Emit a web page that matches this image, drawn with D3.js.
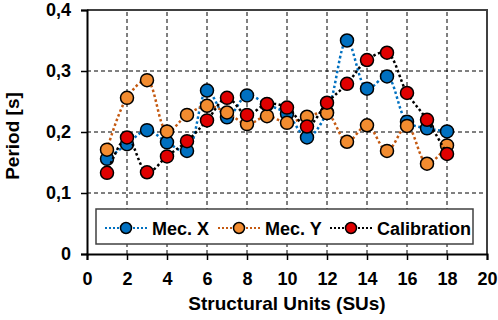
<!DOCTYPE html>
<html>
<head>
<meta charset="utf-8">
<script src="https://cdn.jsdelivr.net/npm/d3@7"></script>
<style>
  body { margin: 0; background: #fff; }
  svg { display: block; font-family: "Liberation Sans", Arial, sans-serif; }
</style>
</head>
<body>
<div id="chart"></div>
<script>
// data
const units = [1, 2, 3, 4, 5, 6, 7, 8, 9, 10, 11, 12, 13, 14, 15, 16, 17, 18];
const mecX = [0.156, 0.180, 0.203, 0.183, 0.169, 0.268, 0.224, 0.260, 0.245, 0.230, 0.191, 0.232, 0.350, 0.271, 0.291, 0.217, 0.206, 0.201];
const mecY = [0.171, 0.256, 0.285, 0.201, 0.228, 0.243, 0.232, 0.213, 0.226, 0.215, 0.225, 0.231, 0.184, 0.211, 0.169, 0.210, 0.148, 0.178];
const calib = [0.133, 0.191, 0.134, 0.160, 0.185, 0.219, 0.256, 0.228, 0.246, 0.240, 0.209, 0.248, 0.279, 0.318, 0.330, 0.264, 0.220, 0.164];
const xTicks = [0, 2, 4, 6, 8, 10, 12, 14, 16, 18, 20];
const yTicks = [0, 0.1, 0.2, 0.3, 0.4];

const series = [
  {name: "Mec. X", values: mecX, line: "#0070C0", fill: "#0070C0", legendX: 105},
  {name: "Mec. Y", values: mecY, line: "#C55A11", fill: "#F28C30", legendX: 218},
  {name: "Calibration", values: calib, line: "#000000", fill: "#E00000", legendX: 330}
];

const width = 498, height = 320;
const margin = {top: 10, right: 11, bottom: 66, left: 87};

const svg = d3.select("#chart").append("svg")
  .attr("width", width)
  .attr("height", height);

const x = d3.scaleLinear().domain([0, 20]).range([margin.left, width - margin.right]);
const y = d3.scaleLinear().domain([0, 0.4]).range([height - margin.bottom, margin.top]);

// gridlines
svg.append("g")
  .selectAll("line")
  .data(yTicks.filter(d => d > 0 && d < 0.4))
  .join("line")
  .attr("x1", x(0)).attr("x2", x(20))
  .attr("y1", d => y(d)).attr("y2", d => y(d))
  .attr("stroke", "#000").attr("stroke-width", 1)
  .attr("stroke-dasharray", "4,3");

svg.append("g")
  .selectAll("line")
  .data(xTicks.filter(d => d > 0 && d < 20))
  .join("line")
  .attr("x1", d => x(d)).attr("x2", d => x(d))
  .attr("y1", y(0)).attr("y2", y(0.4))
  .attr("stroke", "#000").attr("stroke-width", 1)
  .attr("stroke-dasharray", "4,3");

// top/right frame
svg.append("path")
  .attr("d", `M${x(0)},${y(0.4)}H${x(20)}V${y(0)}`)
  .attr("fill", "none")
  .attr("stroke", "#404040")
  .attr("stroke-width", 2);

// axes
const yAxis = svg.append("g")
  .attr("transform", `translate(${x(0)},0)`)
  .call(d3.axisLeft(y).tickValues(yTicks).tickSize(6).tickPadding(10)
    .tickFormat(d => d === 0 ? "0" : d3.format(".1f")(d).replace(".", ",")));

const xAxis = svg.append("g")
  .attr("transform", `translate(0,${y(0)})`)
  .call(d3.axisBottom(x).tickValues(xTicks).tickSize(6).tickPadding(12));

[xAxis, yAxis].forEach(g => {
  g.select(".domain").attr("stroke", "#000").attr("stroke-width", 2);
  g.selectAll(".tick line").attr("stroke", "#000").attr("stroke-width", 1.5);
  g.selectAll("text")
    .attr("fill", "#000")
    .style("font-size", "18px")
    .style("font-weight", "bold")
    .style("font-family", "Liberation Sans, Arial, sans-serif");
});

// series
const line = d3.line()
  .x((d, i) => x(units[i]))
  .y(d => y(d))
  .curve(d3.curveCatmullRom.alpha(0.5));

series.forEach(s => {
  svg.append("path")
    .datum(s.values)
    .attr("fill", "none")
    .attr("stroke", s.line)
    .attr("stroke-width", 2.5)
    .attr("stroke-dasharray", "2.5,2.5")
    .attr("d", line);

  svg.append("g")
    .selectAll("circle")
    .data(s.values)
    .join("circle")
    .attr("cx", (d, i) => x(units[i]))
    .attr("cy", d => y(d))
    .attr("r", 6.5)
    .attr("fill", s.fill)
    .attr("stroke", "#000")
    .attr("stroke-width", 1.5);
});

// legend
const legend = svg.append("g");
legend.append("rect")
  .attr("x", 96).attr("y", 209)
  .attr("width", 377).attr("height", 35)
  .attr("fill", "#fff")
  .attr("stroke", "#404040")
  .attr("stroke-width", 1.5);

series.forEach(s => {
  const g = legend.append("g").attr("transform", `translate(${s.legendX},228)`);
  g.append("line")
    .attr("x1", 0).attr("x2", 42)
    .attr("stroke", s.line)
    .attr("stroke-width", 2)
    .attr("stroke-dasharray", "2,2");
  g.append("circle")
    .attr("cx", 21).attr("r", 5.5)
    .attr("fill", s.fill)
    .attr("stroke", "#000")
    .attr("stroke-width", 1.5);
  g.append("text")
    .attr("x", 47).attr("y", 6.5)
    .style("font-size", "18px")
    .style("font-weight", "bold")
    .text(s.name);
});

// axis titles
svg.append("text")
  .attr("x", (x(0) + x(20)) / 2)
  .attr("y", 310)
  .attr("text-anchor", "middle")
  .style("font-size", "19px")
  .style("font-weight", "bold")
  .text("Structural Units (SUs)");

svg.append("text")
  .attr("transform", `translate(19,${(y(0) + y(0.4)) / 2 + 4}) rotate(-90)`)
  .attr("text-anchor", "middle")
  .style("font-size", "19px")
  .style("font-weight", "bold")
  .text("Period [s]");
</script>
</body>
</html>
